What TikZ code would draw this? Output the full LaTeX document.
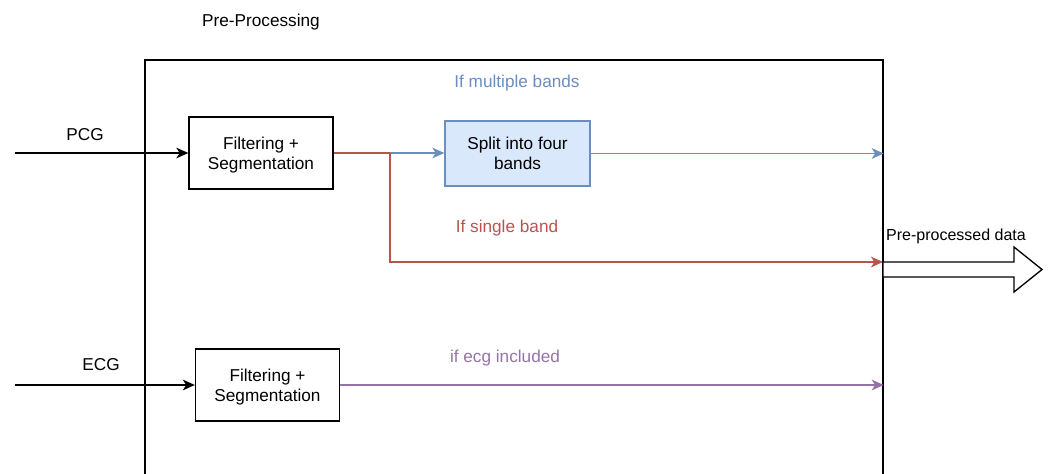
\documentclass[tikz,border=0pt]{standalone}
\usepackage{fontspec}
\setmainfont{Liberation Sans}
\usetikzlibrary{arrows.meta, positioning}
\definecolor{bandblue}{HTML}{6C8EBF}
\definecolor{bandfill}{HTML}{DAE8FC}
\definecolor{singlered}{HTML}{B85450}
\definecolor{ecgpurple}{HTML}{9673A6}

\begin{document}
\begin{tikzpicture}[
    x=0.75pt, y=-0.75pt,
    txt/.style      = {font=\fontsize{12.9}{14.8}\selectfont, inner sep=0pt},
    stage/.style    = {rectangle, draw=black, line width=1pt, fill=white, txt,
                       align=center, text depth=0pt,
                       minimum width=108pt, minimum height=54pt},
    splitbox/.style = {stage, draw=bandblue, fill=bandfill,
                       minimum width=108.75pt, minimum height=48.75pt},
    outer/.style    = {rectangle, draw=black, line width=1.1pt, inner sep=0pt,
                       minimum width=553.5pt, minimum height=360pt},
    lbl/.style      = {txt, yshift=-1.5pt},
    arr/.style      = {-{Stealth[length=9pt, width=8pt, inset=2.5pt]}, line width=1pt},
    barr/.style     = {arr, color=bandblue},
    rarr/.style     = {arr, color=singlered},
    parr/.style     = {arr, color=ecgpurple}
  ]
  \useasboundingbox (0,0) rectangle (1049,474);

  % ── Pre-processing box ─────────────────────────────────────────────────────
  \node[outer] (prebox) at (514,300) {};
  \node[lbl] (pretitle) at (261,20) {Pre-Processing};

  % ── Stages ─────────────────────────────────────────────────────────────────
  \node[stage]    (pcgfilt) at (261,153) {Filtering +\\Segmentation};
  \node[splitbox] (split)   at (517.5,153.5) {Split into four\\bands};
  \node[stage]    (ecgfilt) at (267.5,385) {Filtering +\\Segmentation};

  % ── Inputs ─────────────────────────────────────────────────────────────────
  \coordinate (pcgin) at (15,153);
  \coordinate (ecgin) at (15,385);
  \node[lbl] (pcglbl) at (85,133) {PCG};
  \node[lbl] (ecglbl) at (101,363) {ECG};
  \draw[arr] (pcgin) -- (pcgfilt);
  \draw[arr] (ecgin) -- (ecgfilt);

  % ── Branches ───────────────────────────────────────────────────────────────
  \coordinate (fork) at (390,153);
  \coordinate (singleend) at (883,262);
  \draw[line width=1pt, singlered] (pcgfilt.east) -- (fork);
  \draw[barr] (fork) -- (split.west |- fork);
  \draw[barr] (split.east) -- (split.east -| prebox.east);
  \draw[rarr] (fork) |- (singleend);
  \draw[parr] (ecgfilt.east) -- (ecgfilt.east -| prebox.east);

  \node[lbl, color=bandblue]   (multilbl)  at (517,81)  {If multiple bands};
  \node[lbl, color=singlered]  (singlelbl) at (507,226) {If single band};
  \node[lbl, color=ecgpurple]  (ecginc)    at (505,356) {if ecg included};

  % ── Output arrow ───────────────────────────────────────────────────────────
  \draw[line width=1pt, fill=white] (883,262) -- (1014,262) -- (1014,247)
    -- (1042,269.5) -- (1014,292) -- (1014,277) -- (883,277) -- cycle;
  \node[lbl, font=\fontsize{12}{14}\selectfont] (outlbl) at (956,234) {Pre-processed data};

\end{tikzpicture}
\end{document}
